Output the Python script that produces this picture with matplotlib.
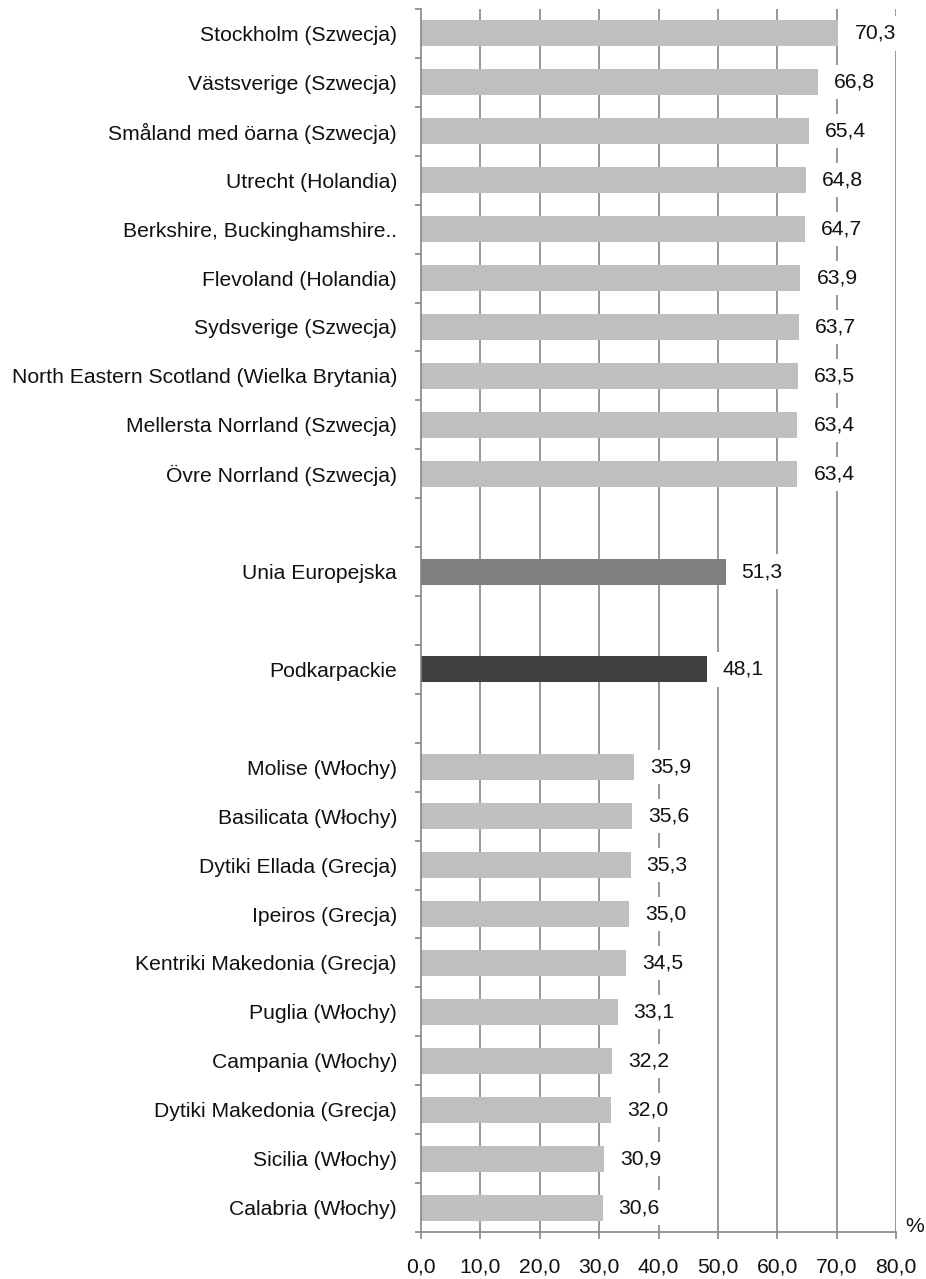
import matplotlib
matplotlib.use("Agg")
import matplotlib.pyplot as plt
import numpy as np

categories = [
    "Stockholm (Szwecja)",
    "Västsverige (Szwecja)",
    "Småland med öarna (Szwecja)",
    "Utrecht (Holandia)",
    "Berkshire, Buckinghamshire..",
    "Flevoland (Holandia)",
    "Sydsverige (Szwecja)",
    "North Eastern Scotland (Wielka Brytania)",
    "Mellersta Norrland (Szwecja)",
    "Övre Norrland (Szwecja)",
    "",
    "Unia Europejska",
    "",
    "Podkarpackie",
    "",
    "Molise (Włochy)",
    "Basilicata (Włochy)",
    "Dytiki Ellada (Grecja)",
    "Ipeiros (Grecja)",
    "Kentriki Makedonia (Grecja)",
    "Puglia (Włochy)",
    "Campania (Włochy)",
    "Dytiki Makedonia (Grecja)",
    "Sicilia (Włochy)",
    "Calabria (Włochy)",
]
values = [70.3, 66.8, 65.4, 64.8, 64.7, 63.9, 63.7, 63.5, 63.4, 63.4,
          None, 51.3, None, 48.1, None,
          35.9, 35.6, 35.3, 35.0, 34.5, 33.1, 32.2, 32.0, 30.9, 30.6]
kinds = ["region"] * 10 + ["gap", "eu", "gap", "pk", "gap"] + ["region"] * 10
xticks = [0, 10, 20, 30, 40, 50, 60, 70, 80]

color_map = {"region": "#BFBFBF", "eu": "#808080", "pk": "#404040", "gap": "#FFFFFF"}
line_col = "#868686"

plt.rcParams["font.family"] = ["Liberation Sans", "DejaVu Sans"]
fs = 15.2

fig = plt.figure(figsize=(9.26, 12.79), dpi=100)
ax = fig.add_axes([421 / 926, 47 / 1279, 475 / 926, 1223 / 1279])

n = len(categories)
ypos = np.arange(n)
for y, v, k in zip(ypos, values, kinds):
    if v is None:
        continue
    ax.barh(y, v, height=0.53, color=color_map[k], zorder=2)
    ax.annotate(f"{v:.1f}".replace(".", ","), xy=(v, y), xytext=(11.5, 0),
                textcoords="offset points", ha="left", va="center",
                fontsize=fs, color="#111111", zorder=4,
                bbox=dict(boxstyle="square,pad=0.36", facecolor="white", edgecolor="none"))

ax.set_ylim(n - 0.5, -0.5)
ax.set_xlim(0, 80)

ax.set_yticks(ypos)
ax.set_yticklabels(categories, fontsize=fs, color="#111111")
ax.set_yticks(np.arange(-0.5, n, 1.0), minor=True)
ax.tick_params(axis="y", which="major", length=0, pad=17.3)
ax.tick_params(axis="y", which="minor", length=4.5, width=1.2, color=line_col, direction="out")

ax.set_xticks(xticks)
ax.set_xticklabels([f"{t:.1f}".replace(".", ",") for t in xticks], fontsize=fs, color="#111111")
ax.tick_params(axis="x", which="major", length=5, width=1.2, color=line_col, direction="out", pad=13.5)

for t in xticks[1:]:
    ax.axvline(t, color=line_col, linewidth=1.2, zorder=1)

for s in ["top", "right"]:
    ax.spines[s].set_visible(False)
for s in ["left", "bottom"]:
    ax.spines[s].set_color(line_col)
    ax.spines[s].set_linewidth(1.2)
    ax.spines[s].set_zorder(3)

fig.text(915 / 926, 1 - 1226 / 1279, "%", ha="center", va="center", fontsize=fs, color="#111111")

fig.savefig("out.png", dpi=100, facecolor="white")
